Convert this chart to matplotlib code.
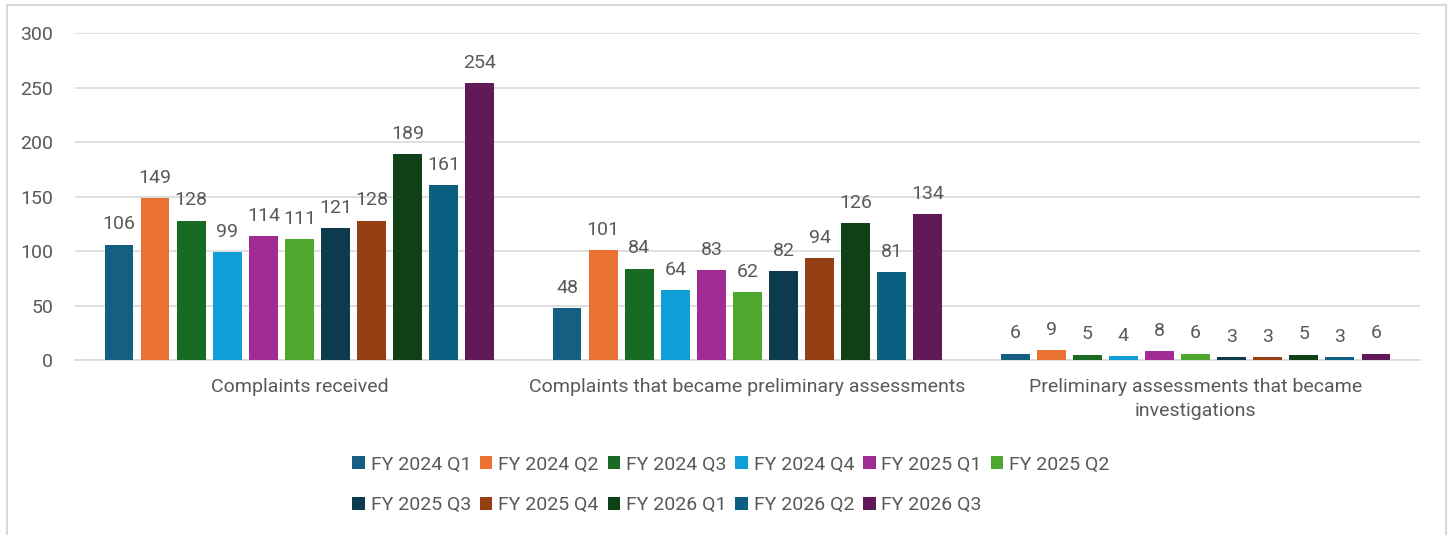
import numpy as np
import matplotlib
matplotlib.use("Agg")
import matplotlib.pyplot as plt
from matplotlib.lines import Line2D

plt.rcParams['font.family'] = ['Roboto', 'DejaVu Sans']

categories = ['Complaints received',
              'Complaints that became preliminary assessments',
              'Preliminary assessments that became\ninvestigations']
quarters = ['FY 2024 Q1', 'FY 2024 Q2', 'FY 2024 Q3', 'FY 2024 Q4',
            'FY 2025 Q1', 'FY 2025 Q2', 'FY 2025 Q3', 'FY 2025 Q4',
            'FY 2026 Q1', 'FY 2026 Q2', 'FY 2026 Q3']
received = [106, 149, 128, 99, 114, 111, 121, 128, 189, 161, 254]
prelim = [48, 101, 84, 64, 83, 62, 82, 94, 126, 81, 134]
investig = [6, 9, 5, 4, 8, 6, 3, 3, 5, 3, 6]
colors = ['#156082', '#E97132', '#196B24', '#0F9ED5', '#A02B93', '#4EA72E',
          '#0E3A50', '#943F14', '#0F4118', '#0B5F80', '#601A58']

values = np.array([received, prelim, investig]).T  # rows = quarters

fig = plt.figure(figsize=(14.5, 5.35), dpi=100)
ax = fig.add_axes([0.052, 0.327, 0.927, 0.611])

text_col = '#595959'
x = np.arange(len(categories))
pitch = 0.0805
width = 0.064
handles = []
for i, q in enumerate(quarters):
    pos = x + (i - (len(quarters) - 1) / 2) * pitch
    bars = ax.bar(pos, values[i], width, color=colors[i], zorder=3)
    for p, v in zip(pos, values[i]):
        ax.annotate(str(v), (p, v), xytext=(0, 8), textcoords='offset points',
                    ha='center', va='bottom', fontsize=14, color=text_col)
    handles.append(bars)

ax.set_xlim(-0.5, 2.5)
ax.set_ylim(0, 300)
ax.set_yticks(range(0, 301, 50))
ax.set_xticks(x)
ax.set_xticklabels(categories, fontsize=14, color=text_col, linespacing=1.45)
ax.tick_params(axis='both', length=0, labelsize=14, labelcolor=text_col)
ax.tick_params(axis='x', pad=13)
ax.tick_params(axis='y', pad=16)
ax.grid(axis='y', color='#D9D9D9', linewidth=1.2, zorder=0)
for s in ['top', 'right', 'left']:
    ax.spines[s].set_visible(False)
ax.spines['bottom'].set_color('#D9D9D9')
ax.spines['bottom'].set_linewidth(1.2)

# legend laid out row-wise: 6 on first row, 5 on second
order = [0, 6, 1, 7, 2, 8, 3, 9, 4, 10, 5]
leg = fig.legend([handles[k] for k in order], [quarters[k] for k in order],
                 ncol=6, loc='center', bbox_to_anchor=(0.504, 0.094),
                 frameon=False, fontsize=14, labelcolor=text_col,
                 handlelength=0.65, handleheight=0.65, handletextpad=0.3,
                 columnspacing=0.45, labelspacing=1.15)

# light outer frame
for xs, ys in [([0.005, 0.005], [0, 0.99]), ([0.005, 0.997], [0.99, 0.99]),
               ([0.997, 0.997], [0, 0.99])]:
    fig.add_artist(Line2D(xs, ys, color='#D9D9D9', linewidth=1.5,
                          transform=fig.transFigure))

fig.savefig('out.png', dpi=100)
